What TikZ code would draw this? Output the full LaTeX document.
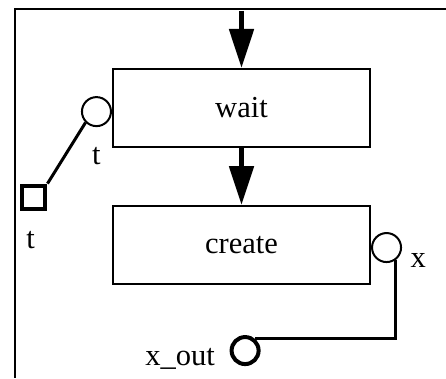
\documentclass[tikz,border=0pt]{standalone}
\usepackage{fontspec}
\setmainfont{Liberation Serif}
\usetikzlibrary{arrows.meta,positioning}

\begin{document}
\begin{tikzpicture}[
  x=0.025cm, y=-0.025cm,
  font=\fontsize{21.7}{26}\selectfont,
  box/.style={draw, line width=0.05cm, minimum width=6.425cm, minimum height=1.95cm, inner sep=0pt},
  port/.style={draw, circle, line width=0.05cm, minimum size=0.725cm, inner sep=0pt},
  outport/.style={draw, circle, line width=0.1cm, minimum size=0.675cm, inner sep=0pt},
  sqport/.style={draw, line width=0.12cm, minimum size=0.575cm, inner sep=0pt},
  lab/.style={inner sep=0pt},
  flow/.style={-{Triangle[width=0.6cm, length=0.975cm]}, line width=0.125cm},
  wire/.style={line width=0.075cm},
  frame/.style={line width=0.05cm}
]
\useasboundingbox (0,0) rectangle (446,378);
\draw[frame] (446,8.5) -- (15,8.5) -- (15,378);

\node[box] (wait) at (241.5,108) {wait};
\node[box, below=1.425cm of wait] (create) {create};
\coordinate[above=1.425cm of wait] (start);

\node[port, left=0pt of wait, yshift=-0.09cm] (tin) {};
\node[lab, below=0.5cm of tin] (tinlab) {t};
\node[sqport, below left=1.525cm and 0.95cm of tin] (tsq) {};
\node[lab, below=0.48cm of tsq, xshift=-0.075cm] (tsqlab) {t};

\node[port, right=0pt of create, yshift=-0.0625cm] (xport) {};
\node[lab, right=0.21cm of xport, yshift=-0.325cm] (xlab) {x};
\node[outport, below=1.25cm of create, xshift=0.09cm] (xo) {};
\node[lab, left=0.36cm of xo, yshift=-0.2cm] (xolab) {x\_out};

\draw[flow] (start) -- (wait.north);
\draw[flow] (wait) -- (create);
\draw[wire] (tin.south west) -- (tsq.north east);
\draw[wire] (xport.-55) |- (xo.51);
\end{tikzpicture}
\end{document}
